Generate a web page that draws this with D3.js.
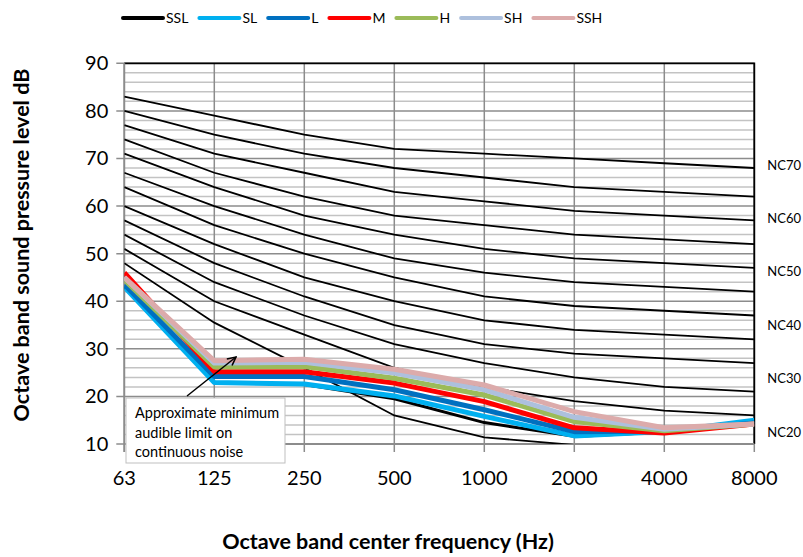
<!DOCTYPE html>
<html><head><meta charset="utf-8">
<script src="https://cdn.jsdelivr.net/npm/d3@7"></script>
<style>body{margin:0;background:#fff}svg{display:block}</style>
</head><body><svg id="c" width="803" height="557"></svg>
<script>
const categories = ["63","125","250","500","1000","2000","4000","8000"];
const yTicks = [10,20,30,40,50,60,70,80,90];
// NC curves (NC20 .. NC70)
const nc20 = [51,40,33,26,22,19,17,16];
const nc25 = [54,44,37,31,27,24,22,21];
const nc30 = [57,48,41,35,31,29,28,27];
const nc35 = [60,52,45,40,36,34,33,32];
const nc40 = [64,56,50,45,41,39,38,37];
const nc45 = [67,60,54,49,46,44,43,42];
const nc50 = [71,64,58,54,51,49,48,47];
const nc55 = [74,67,62,58,56,54,53,52];
const nc60 = [77,71,67,63,61,59,58,57];
const nc65 = [80,75,71,68,66,64,63,62];
const nc70 = [83,79,75,72,71,70,69,68];
const threshold = [48,35.5,26,16,11.4,9.8,8,9];
const ncLabels = ["NC70","NC60","NC50","NC40","NC30","NC20"];
const ncLabelValues = [68.5,57.4,46.2,35,23.7,12.5];
// measured series
const seriesNames = ["SSL","SL","L","M","H","SH","SSH"];
const seriesColors = ["#000000","#00b0f0","#0070c0","#ff0000","#9bbb59","#adc0dd","#dcabab"];
const sSSL = [43,23,22.5,19.5,14.5,11.6,12.5,14.5];
const sSL  = [43,22.9,22.6,20.1,15.8,11.7,12.6,15];
const sL   = [43.5,24.2,24.2,21.4,17.2,12.6,12.7,14.4];
const sM   = [46,25.2,25.2,22.8,18.9,13.4,12.3,14.2];
const sH   = [44.5,26.2,26.3,23.8,20.3,14.7,12.8,14.2];
const sSH  = [45,27,27.2,24.9,21.4,15.6,13.1,14.2];
const sSSH = [45,27.5,27.8,25.7,22.4,16.8,13.4,14.2];
const seriesValues = [sSSL,sSL,sL,sM,sH,sSH,sSSH];
const ncCurves = [nc20,nc25,nc30,nc35,nc40,nc45,nc50,nc55,nc60,nc65,nc70,threshold];

const svg = d3.select("#c");
const L = 124.3, R = 754.3, T = 63.3, B = 444;
const x = d3.scalePoint().domain(categories).range([L,R]).padding(0);
const y = d3.scaleLinear().domain([10,90]).range([B,T]);
const FONT = "Lato, 'Open Sans', sans-serif";

svg.append("defs").append("clipPath").attr("id","clip")
  .append("rect").attr("x",L).attr("y",T).attr("width",R-L).attr("height",B-T);

// minor gridlines every 2
const minor = d3.range(12,90,2).filter(v=>v%10!==0);
svg.append("g").selectAll("line").data(minor).join("line")
  .attr("x1",L).attr("x2",R).attr("y1",d=>y(d)).attr("y2",d=>y(d))
  .attr("stroke","#c3c3c3").attr("stroke-width",1.5);
// major gridlines
svg.append("g").selectAll("line").data(yTicks).join("line")
  .attr("x1",L-8).attr("x2",R).attr("y1",d=>y(d)).attr("y2",d=>y(d))
  .attr("stroke","#8c8c8c").attr("stroke-width",1.5);
// vertical gridlines
svg.append("g").selectAll("line").data(categories).join("line")
  .attr("x1",d=>x(d)).attr("x2",d=>x(d)).attr("y1",T).attr("y2",B+8)
  .attr("stroke","#8c8c8c").attr("stroke-width",1.5);
// border top/right
svg.append("path").attr("d",`M${L},${T}H${R}V${B}`).attr("fill","none")
  .attr("stroke","#000").attr("stroke-width",1.8);
// axes lines
svg.append("line").attr("x1",L).attr("x2",L).attr("y1",T).attr("y2",B+8).attr("stroke","#8c8c8c").attr("stroke-width",1.8);
svg.append("line").attr("x1",L).attr("x2",R).attr("y1",B).attr("y2",B).attr("stroke","#8c8c8c").attr("stroke-width",1.8);

const line = d3.line().x((d,i)=>x(categories[i])).y(d=>y(d));
const plot = svg.append("g").attr("clip-path","url(#clip)");
plot.selectAll("path.nc").data(ncCurves).join("path").attr("class","nc")
  .attr("d",line).attr("fill","none").attr("stroke","#000").attr("stroke-width",1.8);
plot.selectAll("path.s").data(seriesValues).join("path").attr("class","s")
  .attr("d",line).attr("fill","none")
  .attr("stroke",(d,i)=>seriesColors[i])
  .attr("stroke-width",(d,i)=>i===0?3:5)
  .attr("stroke-linejoin","round");

// y tick labels
svg.append("g").selectAll("text").data(yTicks).join("text")
  .attr("x",L-16).attr("y",d=>y(d)).attr("dy","0.35em").attr("text-anchor","end")
  .attr("font-family",FONT).attr("font-size",20).attr("fill","#000").text(d=>d);
// x tick labels
svg.append("g").selectAll("text").data(categories).join("text")
  .attr("x",d=>x(d)).attr("y",B+34).attr("dy","0.35em").attr("text-anchor","middle")
  .attr("font-family",FONT).attr("font-size",20).attr("fill","#000").text(d=>d);
// NC labels
svg.append("g").selectAll("text").data(ncLabels).join("text")
  .attr("x",R+13).attr("y",(d,i)=>y(ncLabelValues[i])).attr("dy","0.35em")
  .attr("font-family",FONT).attr("font-size",13).attr("fill","#000").text(d=>d);

// axis titles
svg.append("text").attr("x",388).attr("y",541).attr("dy","0.35em").attr("text-anchor","middle")
  .attr("font-family",FONT).attr("font-weight","bold").attr("font-size",21.5).text("Octave band center frequency (Hz)");
svg.append("text").attr("transform","translate(21,245) rotate(-90)").attr("dy","0.35em").attr("text-anchor","middle")
  .attr("font-family",FONT).attr("font-weight","bold").attr("font-size",21.5).text("Octave band sound pressure level dB");

// legend
const lg = svg.append("g");
let lx = 123;
seriesNames.forEach((n,i)=>{
  lg.append("line").attr("x1",lx).attr("x2",lx+40).attr("y1",18).attr("y2",18)
    .attr("stroke",seriesColors[i]).attr("stroke-width",4).attr("stroke-linecap","round");
  const t = lg.append("text").attr("x",lx+43).attr("y",18).attr("dy","0.35em")
    .attr("font-family",FONT).attr("font-size",14).text(n);
  lx += 43 + t.node().getComputedTextLength() + 11;
});

// annotation arrow and box
svg.append("defs").append("marker").attr("id","ah").attr("viewBox","0 0 10 10")
  .attr("refX",9).attr("refY",5).attr("markerWidth",7).attr("markerHeight",7).attr("orient","auto")
  .append("path").attr("d","M1,1L9,5L1,9").attr("fill","none").attr("stroke","#000").attr("stroke-width",1.5);
svg.append("line").attr("x1",187).attr("y1",396).attr("x2",236).attr("y2",357)
  .attr("stroke","#000").attr("stroke-width",1.5).attr("marker-end","url(#ah)");
svg.append("rect").attr("x",126).attr("y",398).attr("width",159).attr("height",65)
  .attr("fill","#fff").attr("stroke","#bfbfbf").attr("stroke-width",1);
const ann = ["Approximate minimum","audible limit on","continuous noise"];
svg.append("g").selectAll("text").data(ann).join("text")
  .attr("x",135).attr("y",(d,i)=>413+i*19.5).attr("dy","0.35em")
  .attr("font-family",FONT).attr("font-size",14.5).text(d=>d);
</script></body></html>
